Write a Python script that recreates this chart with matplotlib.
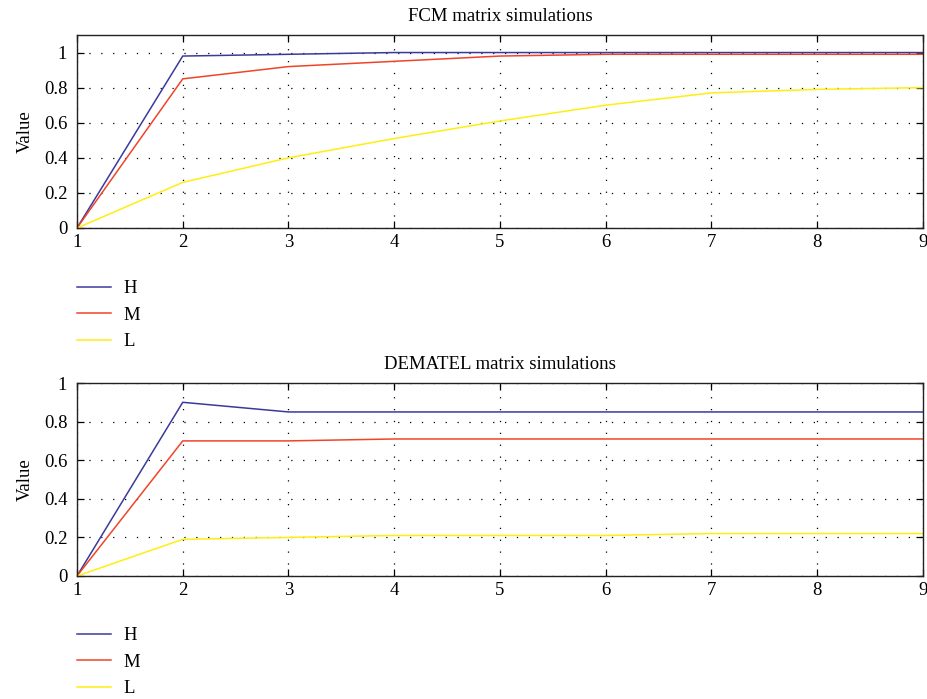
import matplotlib
matplotlib.use("Agg")
import matplotlib.pyplot as plt

steps = [1, 2, 3, 4, 5, 6, 7, 8, 9]
labels = ["H", "M", "L"]

fcm_H = [0, 0.98, 0.99, 1.0, 1.0, 1.0, 1.0, 1.0, 1.0]
fcm_M = [0, 0.85, 0.92, 0.95, 0.98, 0.99, 0.99, 0.99, 0.99]
fcm_L = [0, 0.26, 0.40, 0.51, 0.61, 0.70, 0.77, 0.79, 0.80]

dem_H = [0, 0.90, 0.85, 0.85, 0.85, 0.85, 0.85, 0.85, 0.85]
dem_M = [0, 0.70, 0.70, 0.71, 0.71, 0.71, 0.71, 0.71, 0.71]
dem_L = [0, 0.19, 0.20, 0.21, 0.21, 0.21, 0.22, 0.22, 0.22]

titles = ["FCM matrix simulations", "DEMATEL matrix simulations"]
yticks = [0, 0.2, 0.4, 0.6, 0.8, 1]
ytick_labels = ["0", "0.2", "0.4", "0.6", "0.8", "1"]

colors = ["#3a3a9c", "#f04428", "#ffee11"]

plt.rcParams["font.family"] = ["Liberation Serif", "DejaVu Serif"]
plt.rcParams["font.size"] = 13.5

fig = plt.figure(figsize=(9.28, 6.99), dpi=100)
W, H = 928.0, 699.0

panels = [
    (titles[0], [fcm_H, fcm_M, fcm_L], 1.1, 35, 280),
    (titles[1], [dem_H, dem_M, dem_L], 1.0, 383, 627),
]

for title, series, ytop, top_px, leg_px in panels:
    ax = fig.add_axes([77 / W, 1 - (top_px + 193) / H, 846 / W, 193 / H])
    for vals, lab, c in zip(series, labels, colors):
        ax.plot(steps, vals, color=c, lw=1.1, label=lab)
    ax.set_xlim(1, 9)
    ax.set_ylim(0, ytop)
    ax.set_xticks(steps)
    ax.set_yticks(yticks)
    ax.set_yticklabels(ytick_labels)
    ax.grid(True, color="black", linestyle=(0, (1, 8.5)), linewidth=0.9)
    ax.tick_params(direction="in", top=True, right=True, length=5, width=0.9)
    ax.tick_params(axis="x", pad=4)
    ax.tick_params(axis="y", pad=7)
    for s in ax.spines.values():
        s.set_linewidth(1.0)
        s.set_color("#222222")
    ax.set_ylabel("Value", labelpad=7)
    ax.set_title(title, fontsize=13.5, pad=10)
    handles, labs = ax.get_legend_handles_labels()
    fig.legend(handles, labs, loc="upper left",
               bbox_to_anchor=(77 / W, 1 - leg_px / H),
               frameon=False, borderpad=0, borderaxespad=0,
               handlelength=1.8, handletextpad=0.7, labelspacing=0.5,
               fontsize=13.5)

fig.savefig("out.png", dpi=100)
